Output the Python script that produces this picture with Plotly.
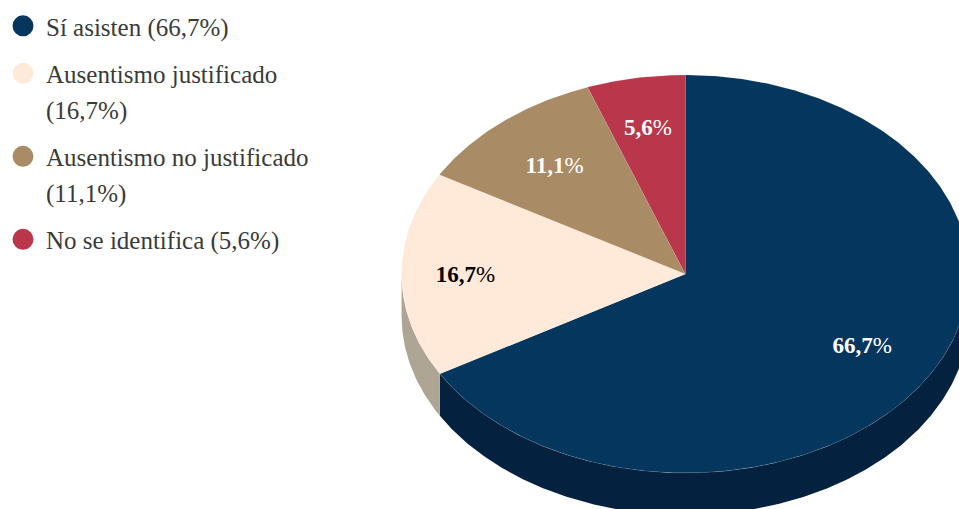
"""Asistencia: 3D-style pie drawn with filled scatter wedges, since go.Pie can't tilt."""
from __future__ import annotations

import numpy as np
import plotly.graph_objects as go

CATEGORIES = ["Sí asisten", "Ausentismo justificado", "Ausentismo no justificado", "No se identifica"]
SHARES = [66.7, 16.7, 11.1, 5.6]
SHARE_LABELS = ["66,7", "16,7", "11,1", "5,6"]
COLORS = ["#05375E", "#FFE9D8", "#A98C66", "#BA374B"]
WALL_COLORS = ["#04223F", "#AEA595", "#7A6549", "#86283A"]
LABEL_COLORS = ["white", "black", "white", "white"]

WIDTH, HEIGHT = 959, 509
CENTER_X, CENTER_Y = 685, 274  # px
RADIUS_X, RADIUS_Y = 284, 199  # px
DEPTH = 42 / RADIUS_Y
LABEL_RADIUS = [0.72, 0.775, 0.715, 0.75]
LABEL_DROP = 2 / RADIUS_Y
FONT = "Liberation Serif"


def arc(start: float, end: float, drop: float = 0.0) -> tuple[np.ndarray, np.ndarray]:
    """Points on the unit circle, angles in degrees clockwise from 12 o'clock."""
    theta = np.radians(np.linspace(start, end, max(int(abs(end - start)) * 2, 2)))
    return np.sin(theta), np.cos(theta) - drop


fig = go.Figure()

edges = np.concatenate([[0], np.cumsum(SHARES)]) / sum(SHARES) * 360

# side walls first, only the front half of the rim shows
for i in range(len(SHARES)):
    lo, hi = max(edges[i], 90), min(edges[i + 1], 270)
    if lo >= hi:
        continue
    top_x, top_y = arc(lo, hi)
    low_x, low_y = arc(lo, hi, DEPTH)
    fig.add_trace(
        go.Scatter(
            x=np.concatenate([top_x, low_x[::-1]]),
            y=np.concatenate([top_y, low_y[::-1]]),
            mode="lines",
            fill="toself",
            fillcolor=WALL_COLORS[i],
            line=dict(width=0),
            showlegend=False,
            hoverinfo="skip",
        )
    )

# top face
for i in range(len(SHARES)):
    x, y = arc(edges[i], edges[i + 1])
    fig.add_trace(
        go.Scatter(
            x=np.concatenate([[0], x, [0]]),
            y=np.concatenate([[0], y, [0]]),
            mode="lines",
            fill="toself",
            fillcolor=COLORS[i],
            line=dict(width=0.5, color="rgba(255,255,255,0.2)"),
            name=CATEGORIES[i],
            showlegend=False,
            hoverinfo="name",
        )
    )

mids = np.radians((edges[:-1] + edges[1:]) / 2)
fig.add_trace(
    go.Scatter(
        x=np.sin(mids) * LABEL_RADIUS,
        y=np.cos(mids) * LABEL_RADIUS - LABEL_DROP,
        mode="text",
        text=[f"<b>{s}</b>%" for s in SHARE_LABELS],
        textposition="middle center",
        textfont=dict(family=FONT, size=23, color=LABEL_COLORS),
        showlegend=False,
        hoverinfo="skip",
    )
)

# legend keys sit on the first line, so the wrapped "(xx%)" is its own keyless entry
for i, cat in enumerate(CATEGORIES):
    pct = f"({SHARE_LABELS[i]}%)"
    lines = [cat, pct] if len(cat) > 20 else [f"{cat} {pct}"]
    for j, line in enumerate(lines):
        key_color = COLORS[i] if j == 0 else "rgba(0,0,0,0)"
        fig.add_trace(
            go.Scatter(
                x=[None],
                y=[None],
                mode="markers",
                # legend caps size at 16, the outline brings the key up to 21px
                marker=dict(size=16, color=key_color, line=dict(width=5, color=key_color)),
                name=line,
                legendgroup=cat,
            )
        )

fig.update_layout(
    width=WIDTH,
    height=HEIGHT,
    margin=dict(l=0, r=0, t=0, b=0),
    paper_bgcolor="white",
    plot_bgcolor="white",
    font=dict(family=FONT),
    xaxis=dict(
        range=[-CENTER_X / RADIUS_X, (WIDTH - CENTER_X) / RADIUS_X],
        visible=False,
    ),
    yaxis=dict(
        range=[-(HEIGHT - CENTER_Y) / RADIUS_Y, CENTER_Y / RADIUS_Y],
        visible=False,
    ),
    legend=dict(
        x=-0.001,
        y=0.994,
        xanchor="left",
        yanchor="top",
        traceorder="grouped",
        tracegroupgap=12,
        itemsizing="trace",
        itemwidth=36,
        bgcolor="rgba(0,0,0,0)",
        font=dict(family=FONT, size=25, color="#3A3A3A"),
    ),
)

fig.write_html(
    "out.html",
    config={"displayModeBar": False},
    post_script="document.body.style.margin = 0;",
)
